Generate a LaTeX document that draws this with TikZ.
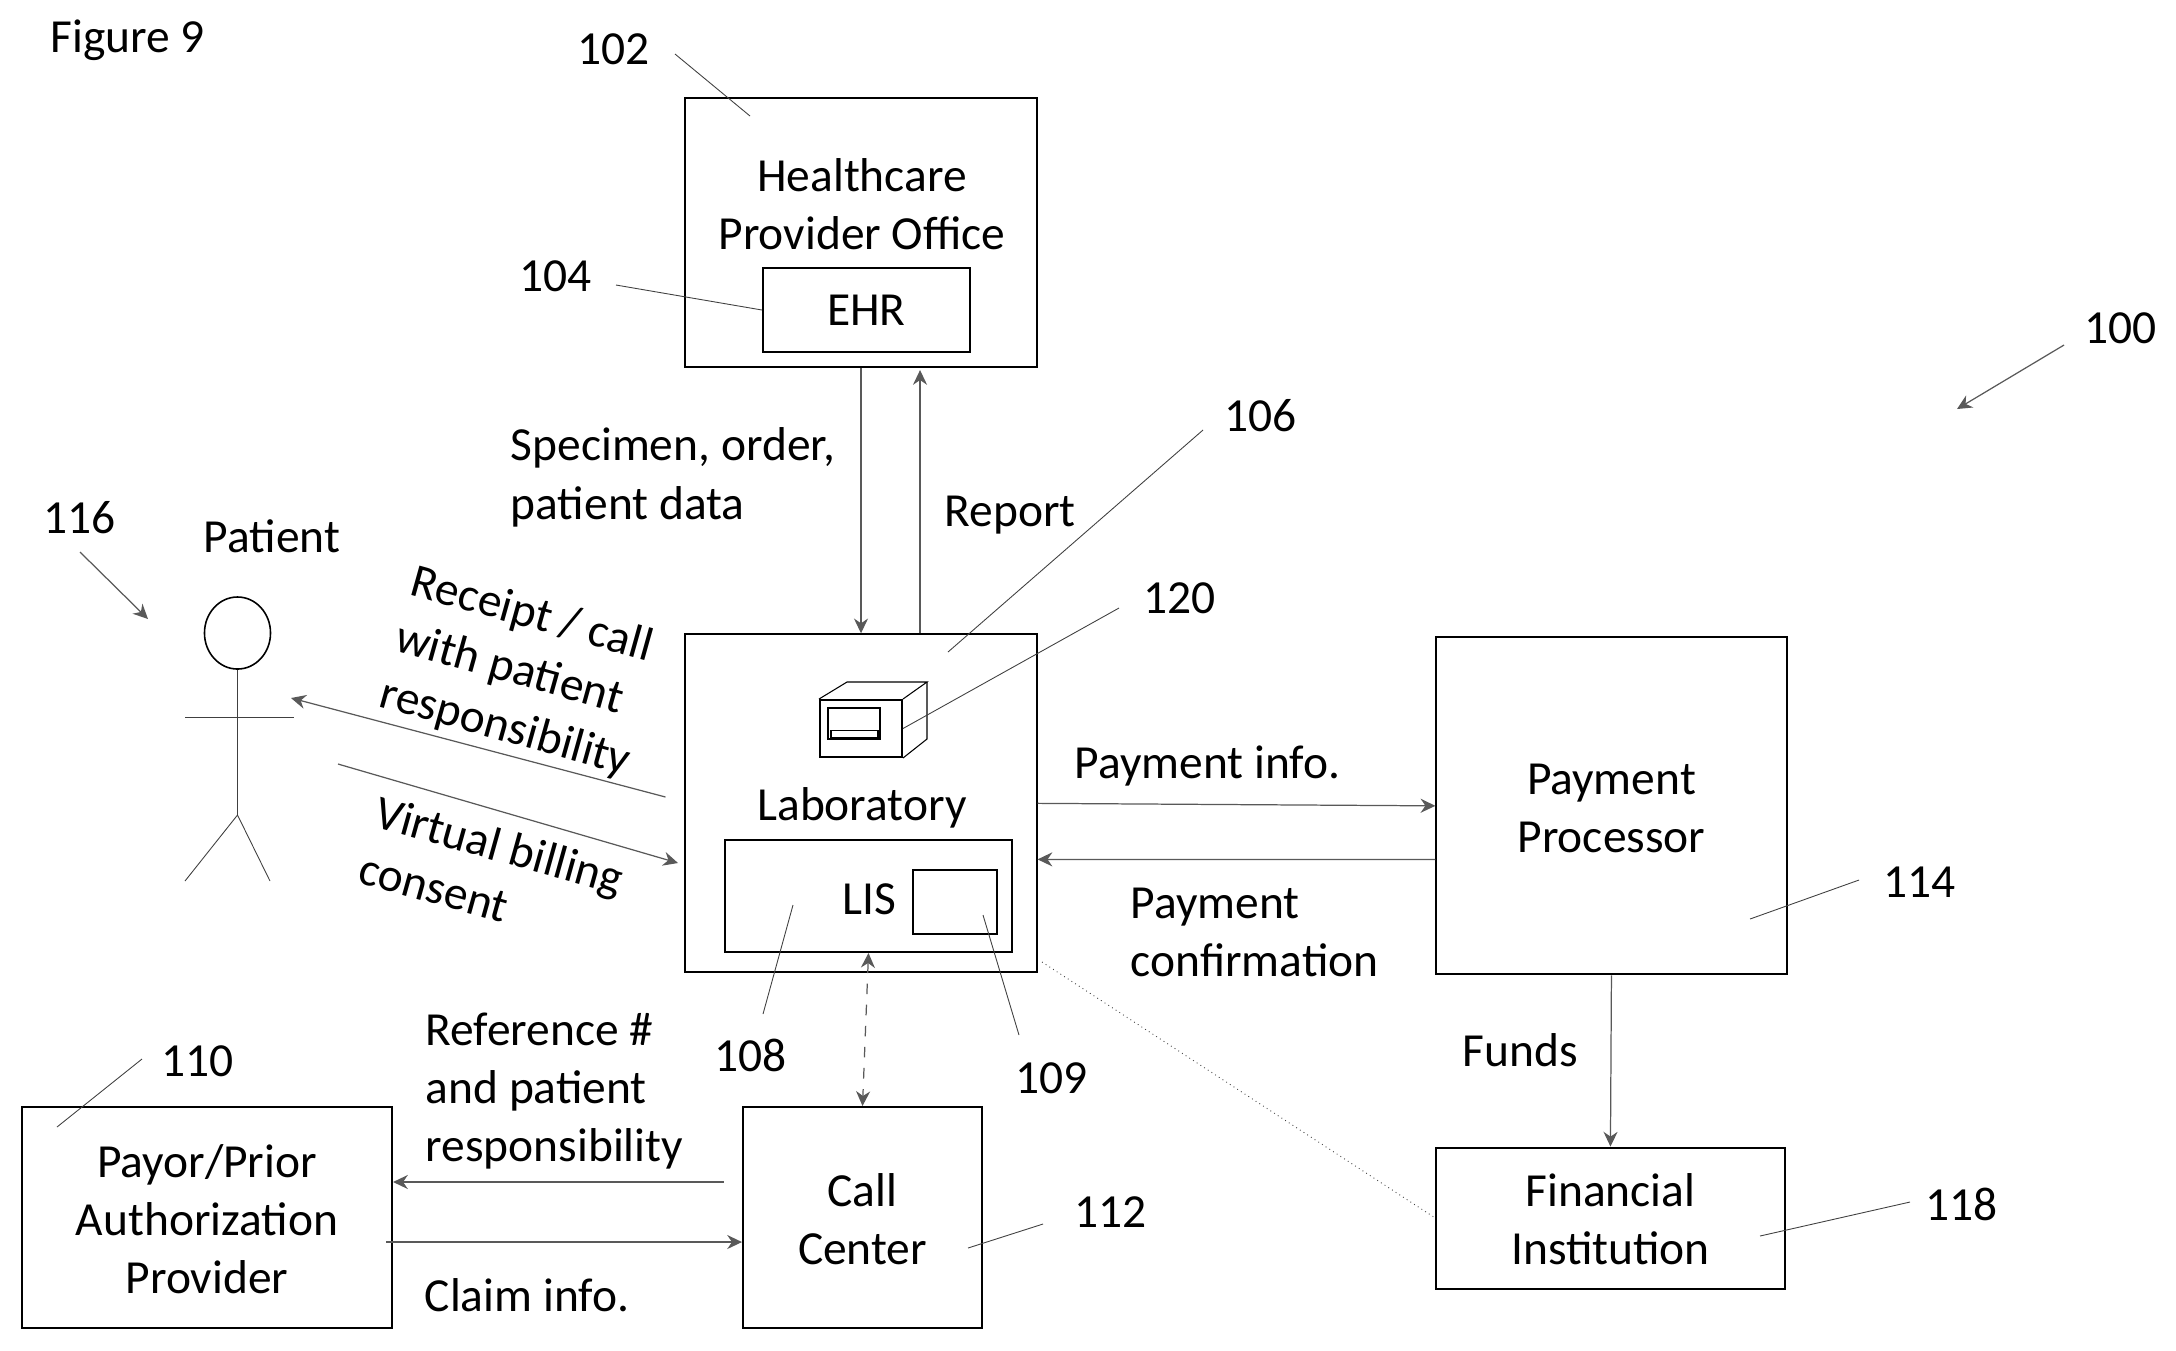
\documentclass[tikz,border=0pt]{standalone}
\usepackage{fontspec}
\setmainfont{Carlito}
\usetikzlibrary{arrows.meta,shapes,positioning}

\begin{document}
\begin{tikzpicture}[x=0.01cm,y=-0.01cm,>={Stealth[length=4.2pt,width=4pt]},
    txt/.style={font=\fontsize{13.5}{16.5}\selectfont,inner sep=0pt},
    box/.style={draw,line width=0.55pt,txt,align=center},
    lbl/.style={txt,anchor=base west,align=left},
    flow/.style={->,line width=0.35pt,draw=black!65},
    thin line/.style={line width=0.25pt,draw=black!75}]
    \useasboundingbox (0,0) rectangle (2176,1350);
    % boxes
    \node[box,minimum width=3.51cm,minimum height=2.69cm] (office) at (861,232.5) {};
    \node[box,minimum width=3.51cm,minimum height=3.38cm] (lab) [below of=office,node distance=5.705cm] {};
    \node[box,minimum width=3.50cm,minimum height=3.37cm] (payment) [right of=lab,node distance=7.5cm,yshift=-0.025cm] {};
    \node[box,minimum width=3.48cm,minimum height=1.41cm] (bank) [below of=payment,node distance=4.12cm,xshift=-0.01cm] {};
    \node[box,minimum width=2.39cm,minimum height=2.21cm] (call) at (862.5,1217.5) {};
    \node[box,minimum width=3.70cm,minimum height=2.21cm] (payor) at (207,1217.5) {};
    \node[box,minimum width=2.07cm,minimum height=0.84cm] (ehr) at (866.5,310) {EHR};
    \node[box,minimum width=2.87cm,minimum height=1.12cm] (lis) at (868.5,896) {};
    \node[box,minimum width=0.84cm,minimum height=0.64cm] (sub) at (955,902) {};
    % analyzer
    \node[box,minimum width=0.82cm,minimum height=0.57cm] (front) at (861,728.5) {};
    \node[box,minimum width=0.52cm,minimum height=0.31cm] (screen) at (854,723.5) {};
    \node[draw,line width=0.4pt,minimum width=0.47cm,minimum height=0.07cm,inner sep=0pt] (slot) at (854.5,734) {};
    \coordinate (backtl) at (847,682);
    \coordinate (backtr) at (927,682);
    \coordinate (backbr) at (927,739);
    \draw[line width=0.3pt] (front.north west) -- (backtl) -- (backtr) -- (front.north east);
    \draw[line width=0.3pt] (backtr) -- (backbr) -- (front.south east);
    % box texts
    \node[txt,align=center,yshift=-0.03cm] (paytxt) at (payment) {Payment\\Processor};
    \node[txt,align=center,yshift=-0.015cm] (banktxt) at (bank) {Financial\\Institution};
    \node[txt,align=center,yshift=-0.02cm] (calltxt) at (call) {Call\\Center};
    \node[txt,align=center,yshift=-0.02cm] (payortxt) at (payor) {Payor/Prior\\Authorization\\Provider};
    \node[txt,anchor=base] (officetxt) at (862,191.5) {Healthcare};
    \node[txt,anchor=base] (officetxtb) at (862,249.5) {Provider Office};
    \node[txt,anchor=base] (labtxt) at (862,820.5) {Laboratory};
    % texts
    \node[lbl] (fig) at (50,52) {Figure 9};
    \node[lbl] (listxt) at (842,914) {LIS};
    \node[lbl] (spec) at (510,519) {Specimen, order,\\patient data};
    \node[lbl] (rep) at (944,526.5) {Report};
    \node[lbl] (payinfo) at (1074,778.5) {Payment info.};
    \node[lbl] (payconf) at (1130,976) {Payment\\confirmation};
    \node[lbl] (funds) at (1462,1066.5) {Funds};
    \node[lbl] (refno) at (425,1161.5) {Reference \#\\and patient\\responsibility};
    \node[lbl] (claim) at (424,1311.5) {Claim info.};
    \node[lbl] (pat) at (203,552) {Patient};
    \node[lbl,rotate=-15.6] (rcpt) at (377,706) {Receipt / call\\with patient\\responsibility};
    \node[lbl,rotate=-15.6] (virt) at (356,882) {Virtual billing\\consent};
    % reference numbers
    \node[lbl] (n100) at (2084,343.5) {100};
    \node[lbl] (n102) at (577,64.5) {102};
    \node[lbl] (n104) at (519,291.5) {104};
    \node[lbl] (n106) at (1224,431.5) {106};
    \node[lbl] (n108) at (714,1071.5) {108};
    \node[lbl] (n109) at (1015,1093.5) {109};
    \node[lbl] (n110) at (161,1076.5) {110};
    \node[lbl] (n112) at (1074,1227.5) {112};
    \node[lbl] (n114) at (1883,897.5) {114};
    \node[lbl] (n116) at (43,533) {116};
    \node[lbl] (n118) at (1925,1220.5) {118};
    \node[lbl] (n120) at (1143,613.5) {120};
    % patient
    \node[draw,ellipse,line width=0.45pt,minimum width=0.66cm,minimum height=0.72cm,inner sep=0pt] (head) at (237.5,633) {};
    \coordinate (hip) at (237.5,815);
    \coordinate (arml) at (185,717);
    \coordinate (armr) at (294,717);
    \coordinate (footl) at (185,881);
    \coordinate (footr) at (270,881);
    \draw[thin line] (head.south) -- (hip);
    \draw[thin line] (arml) -- (armr);
    \draw[thin line] (footl) -- (hip) -- (footr);
    % arrows
    \coordinate (rcptfrom) at (665.5,797);
    \coordinate (rcptto) at (291,698);
    \coordinate (virtfrom) at (338,764);
    \coordinate (virtto) at (678,863);
    \coordinate (a100) at (2064,345);
    \coordinate (b100) at (1957,409);
    \coordinate (a116) at (80,552);
    \coordinate (b116) at (148,619);
    \draw[flow] (office.south) -- (lab.north);
    \draw[flow] ([xshift=0.59cm]lab.north) -- ([xshift=0.59cm,yshift=-0.02cm]office.south);
    \draw[flow] (lab.east) -- (payment.west);
    \draw[flow] ([yshift=-0.535cm]payment.west) -- ([yshift=-0.56cm]lab.east);
    \draw[flow] (payment.south) -- (bank.north);
    \draw[flow,<->,dashed] (lis.south) -- (call.north);
    \draw[flow] ([xshift=-0.18cm,yshift=0.355cm]call.west) -- ([yshift=0.355cm]payor.east);
    \draw[flow] ([xshift=-0.07cm,yshift=-0.245cm]payor.east) -- ([yshift=-0.245cm]call.west);
    \draw[flow] (rcptfrom) -- (rcptto);
    \draw[flow] (virtfrom) -- (virtto);
    \draw[flow] (a100) -- (b100);
    \draw[flow] (a116) -- (b116);
    \coordinate (labc) at (1042,962);
    \draw[thin line,densely dotted] (labc) -- (bank.west);
    % leaders
    \coordinate (a102) at (675,54);
    \coordinate (b102) at (750,116);
    \coordinate (a104) at (616,285);
    \coordinate (a106) at (1203,430);
    \coordinate (b106) at (948,652);
    \coordinate (a108) at (763,1014);
    \coordinate (b108) at (793,905);
    \coordinate (a109) at (1019,1035);
    \coordinate (b109) at (983,915);
    \coordinate (a110) at (142,1059);
    \coordinate (b110) at (57,1127);
    \coordinate (a112) at (1043,1224);
    \coordinate (b112) at (968,1248);
    \coordinate (a114) at (1859,880);
    \coordinate (b114) at (1750,919);
    \coordinate (a118) at (1910,1202);
    \coordinate (b118) at (1760,1236);
    \coordinate (a120) at (1119,608);
    \draw[thin line] (a102) -- (b102);
    \draw[thin line] (a104) -- (ehr.west);
    \draw[thin line] (a106) -- (b106);
    \draw[thin line] (a108) -- (b108);
    \draw[thin line] (a109) -- (b109);
    \draw[thin line] (a110) -- (b110);
    \draw[thin line] (a112) -- (b112);
    \draw[thin line] (a114) -- (b114);
    \draw[thin line] (a118) -- (b118);
    \draw[thin line] (a120) -- (front.east);
\end{tikzpicture}
\end{document}
